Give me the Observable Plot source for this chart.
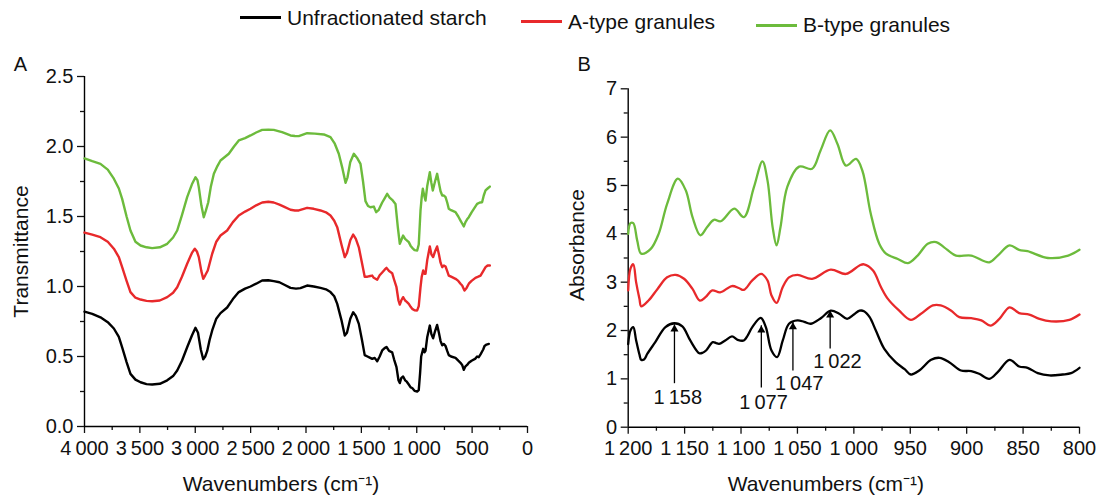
<!DOCTYPE html>
<html><head><meta charset="utf-8">
<script src="https://cdn.jsdelivr.net/npm/d3@7"></script>
<script src="https://cdn.jsdelivr.net/npm/@observablehq/plot@0.6"></script>
<style>
body{margin:0;background:#fff;font-family:"Liberation Sans",Arial,sans-serif;}
#wrap{position:relative;width:1103px;height:498px;overflow:hidden;background:#fff}
#legend{position:absolute;left:0;top:0;width:1103px;height:40px;font-size:21px;color:#111;z-index:2}
.item{position:absolute;display:flex;align-items:center;white-space:nowrap;line-height:24px}
.sw{display:inline-block;width:41px;height:0;border-top:3px solid;margin-right:6px}
#a,#b{position:absolute;top:0}
#a{left:0} #b{left:550px}
svg{overflow:visible}
</style></head><body>
<div id="wrap">
<div id="legend"></div>
<div id="a"></div><div id="b"></div>
</div>
<script>
// ---------- data ----------
const seriesNames = ["Unfractionated starch", "A-type granules", "B-type granules"];
const seriesColors = ["#000000", "#e8292b", "#6cbb3c"];

const aTicksX = [4000, 3500, 3000, 2500, 2000, 1500, 1000, 500, 0];
const aMinorX = [3750, 3250, 2750, 2250, 1750, 1250, 750, 250];
const aTicksY = [0, 0.5, 1.0, 1.5, 2.0, 2.5];
const aMinorY = [0.25, 0.75, 1.25, 1.75, 2.25];
const bTicksX = [1200, 1150, 1100, 1050, 1000, 950, 900, 850, 800];
const bMinorX = [1175, 1125, 1075, 1025, 975, 925, 875, 825];
const bTicksY = [0, 1, 2, 3, 4, 5, 6, 7];
const bMinorY = [0.5, 1.5, 2.5, 3.5, 4.5, 5.5, 6.5];

const blackA = [[4000,0.82],[3930,0.805],[3856,0.78],[3790,0.745],[3735,0.70],[3690,0.64],[3660,0.566],[3620,0.46],[3585,0.376],[3540,0.335],[3494,0.316],[3440,0.303],[3389,0.30],[3320,0.305],[3253,0.33],[3200,0.36],[3163,0.40],[3120,0.47],[3073,0.566],[3030,0.65],[2998,0.705],[2975,0.67],[2950,0.55],[2928,0.48],[2910,0.50],[2892,0.54],[2870,0.62],[2847,0.686],[2810,0.77],[2772,0.81],[2712,0.85],[2660,0.91],[2607,0.96],[2550,0.985],[2501,1.00],[2450,1.02],[2396,1.043],[2340,1.045],[2291,1.038],[2240,1.03],[2200,1.014],[2140,0.99],[2090,0.985],[2050,0.988],[1990,1.007],[1930,1.0],[1869,0.99],[1820,0.98],[1779,0.96],[1745,0.93],[1718,0.876],[1680,0.76],[1650,0.65],[1630,0.67],[1600,0.77],[1574,0.816],[1550,0.79],[1523,0.733],[1495,0.62],[1470,0.51],[1445,0.50],[1420,0.49],[1402,0.483],[1380,0.49],[1357,0.466],[1335,0.50],[1312,0.543],[1290,0.56],[1273,0.568],[1250,0.54],[1222,0.53],[1205,0.48],[1183,0.424],[1165,0.33],[1153,0.31],[1140,0.345],[1123,0.357],[1105,0.33],[1090,0.32],[1072,0.30],[1055,0.28],[1041,0.275],[1020,0.255],[996,0.25],[982,0.26],[970,0.38],[960,0.50],[942,0.555],[930,0.53],[921,0.54],[905,0.64],[882,0.721],[868,0.66],[852,0.63],[835,0.68],[816,0.725],[800,0.67],[785,0.61],[770,0.58],[755,0.59],[740,0.575],[725,0.54],[711,0.51],[690,0.50],[650,0.49],[625,0.47],[605,0.455],[590,0.44],[575,0.405],[560,0.43],[545,0.44],[530,0.455],[505,0.47],[470,0.485],[455,0.50],[440,0.495],[424,0.515],[400,0.55],[388,0.575],[370,0.585],[349,0.59]];

const redA = [[4000,1.385],[3930,1.37],[3856,1.352],[3790,1.32],[3735,1.27],[3690,1.21],[3660,1.138],[3620,1.04],[3585,0.96],[3540,0.92],[3494,0.907],[3440,0.897],[3389,0.895],[3320,0.90],[3253,0.924],[3200,0.955],[3163,0.995],[3120,1.07],[3073,1.162],[3030,1.24],[3004,1.27],[2985,1.25],[2968,1.21],[2945,1.11],[2928,1.055],[2910,1.08],[2887,1.114],[2865,1.18],[2847,1.234],[2810,1.32],[2772,1.364],[2712,1.40],[2660,1.46],[2607,1.507],[2550,1.535],[2501,1.555],[2450,1.58],[2396,1.60],[2340,1.605],[2291,1.60],[2240,1.585],[2200,1.571],[2140,1.548],[2100,1.543],[2065,1.543],[1990,1.562],[1930,1.555],[1869,1.543],[1820,1.53],[1779,1.507],[1745,1.47],[1718,1.424],[1680,1.30],[1650,1.21],[1630,1.24],[1600,1.33],[1574,1.371],[1550,1.34],[1523,1.28],[1495,1.17],[1470,1.07],[1445,1.07],[1420,1.075],[1402,1.078],[1388,1.062],[1357,1.048],[1335,1.08],[1312,1.10],[1290,1.12],[1273,1.133],[1250,1.11],[1222,1.095],[1205,1.05],[1183,0.995],[1165,0.90],[1153,0.871],[1140,0.90],[1123,0.924],[1105,0.90],[1090,0.89],[1072,0.876],[1055,0.855],[1041,0.84],[1020,0.83],[996,0.829],[982,0.86],[966,0.995],[955,1.07],[942,1.114],[930,1.09],[921,1.09],[905,1.19],[882,1.286],[868,1.23],[852,1.21],[835,1.25],[816,1.286],[800,1.23],[785,1.17],[770,1.138],[755,1.15],[740,1.143],[725,1.11],[711,1.078],[690,1.07],[650,1.055],[625,1.04],[605,1.02],[590,1.007],[569,0.971],[550,0.99],[530,1.02],[505,1.04],[470,1.062],[445,1.07],[424,1.078],[400,1.11],[379,1.138],[360,1.15],[340,1.15]];

const greenA = [[4000,1.915],[3930,1.895],[3856,1.876],[3790,1.835],[3735,1.77],[3690,1.70],[3660,1.626],[3620,1.50],[3585,1.40],[3540,1.32],[3494,1.293],[3440,1.28],[3389,1.274],[3320,1.28],[3253,1.305],[3200,1.35],[3163,1.40],[3120,1.51],[3073,1.638],[3030,1.73],[2998,1.78],[2980,1.76],[2968,1.71],[2945,1.58],[2923,1.495],[2905,1.54],[2883,1.60],[2860,1.71],[2832,1.805],[2800,1.86],[2772,1.90],[2697,1.948],[2650,2.00],[2607,2.043],[2550,2.06],[2501,2.079],[2450,2.10],[2396,2.119],[2340,2.12],[2291,2.119],[2250,2.11],[2216,2.102],[2140,2.079],[2100,2.075],[2065,2.074],[1990,2.095],[1920,2.092],[1839,2.086],[1779,2.067],[1740,2.02],[1704,1.948],[1670,1.84],[1643,1.741],[1625,1.78],[1600,1.89],[1568,1.948],[1540,1.92],[1508,1.876],[1485,1.75],[1463,1.61],[1440,1.575],[1418,1.566],[1388,1.571],[1366,1.531],[1345,1.545],[1327,1.575],[1312,1.60],[1290,1.63],[1267,1.662],[1245,1.635],[1222,1.619],[1192,1.59],[1171,1.424],[1153,1.305],[1140,1.33],[1123,1.364],[1105,1.34],[1090,1.33],[1072,1.317],[1055,1.29],[1041,1.276],[1020,1.26],[996,1.257],[982,1.30],[966,1.543],[955,1.64],[945,1.698],[933,1.65],[921,1.614],[905,1.72],[882,1.817],[868,1.74],[855,1.686],[835,1.75],[816,1.805],[800,1.74],[785,1.68],[770,1.65],[755,1.65],[740,1.638],[725,1.60],[711,1.555],[690,1.545],[650,1.531],[625,1.50],[605,1.471],[590,1.45],[575,1.429],[560,1.46],[545,1.48],[530,1.495],[505,1.53],[480,1.56],[455,1.59],[430,1.60],[410,1.602],[395,1.65],[379,1.686],[360,1.70],[340,1.714]];

const blackB = [[1200,1.72],[1198,2.0],[1195.5,2.07],[1193,1.8],[1190,1.5],[1188.5,1.394],[1186,1.40],[1183,1.52],[1176,1.76],[1167,2.07],[1159,2.15],[1152,2.084],[1145,1.794],[1137,1.53],[1134,1.54],[1131,1.587],[1125,1.76],[1122,1.74],[1119.5,1.725],[1114,1.794],[1108,1.877],[1103,1.808],[1097.5,1.794],[1094,1.90],[1090,2.07],[1082.5,2.26],[1078,2.07],[1073,1.587],[1068,1.45],[1063,1.794],[1057.5,2.14],[1050,2.21],[1044,2.18],[1038,2.14],[1029,2.26],[1020.5,2.41],[1013,2.346],[1006,2.24],[1000,2.33],[995,2.41],[991,2.40],[986,2.276],[980.5,2.0],[973,1.62],[963,1.345],[955,1.20],[949.5,1.09],[942,1.173],[931.5,1.394],[924,1.435],[915.5,1.345],[905,1.173],[896,1.16],[889,1.105],[880,1.0],[872.5,1.139],[862,1.394],[853.5,1.256],[846,1.229],[837,1.118],[826.5,1.07],[815,1.09],[807.5,1.118],[800,1.229]];

const redB = [[1200,2.83],[1198,3.28],[1195.5,3.37],[1193,3.0],[1190,2.65],[1188.5,2.50],[1182,2.62],[1174,2.86],[1165.5,3.10],[1158,3.15],[1150.5,3.07],[1143,2.86],[1136.5,2.62],[1131.5,2.69],[1125.5,2.83],[1118.5,2.79],[1108,2.92],[1102,2.88],[1097.5,2.84],[1090,3.035],[1082,3.17],[1076.5,3.035],[1073,2.725],[1068.5,2.57],[1063,2.90],[1057.5,3.10],[1050,3.15],[1037,3.07],[1020.5,3.26],[1007,3.17],[995,3.346],[991,3.37],[983,3.24],[976,2.90],[970,2.66],[960,2.415],[949.5,2.22],[940.5,2.346],[930,2.52],[923,2.52],[914,2.415],[906.5,2.276],[896,2.255],[887,2.21],[879,2.10],[871,2.24],[862,2.48],[853.5,2.36],[844.5,2.33],[835.5,2.24],[825,2.19],[809,2.22],[800,2.33]];

const greenB = [[1200,4.0],[1198,4.22],[1195.5,4.22],[1192,3.86],[1188.5,3.59],[1180,3.69],[1173,4.0],[1165.5,4.62],[1156,5.14],[1149,4.90],[1143,4.345],[1136,3.97],[1130,4.14],[1124,4.29],[1118,4.26],[1106,4.52],[1097.5,4.345],[1088.5,4.97],[1081,5.50],[1076.5,5.10],[1072,4.14],[1068.5,3.76],[1065,4.14],[1059,4.97],[1048.5,5.39],[1037,5.345],[1029.5,5.725],[1021,6.14],[1014.5,5.86],[1007,5.41],[998,5.55],[992.5,5.31],[985,4.415],[977.5,3.795],[971.5,3.59],[961,3.48],[952,3.395],[943.5,3.55],[934.5,3.795],[927,3.83],[920,3.72],[909.5,3.55],[896,3.55],[880,3.41],[872.5,3.55],[862,3.76],[853.5,3.67],[846,3.64],[828,3.50],[810,3.55],[800,3.67]];

// peak annotations (panel B)
const peakLabels = ["1\u2009158", "1\u2009077", "1\u2009047", "1\u2009022"];
const arrowX    = [1159, 1082, 1054, 1021];
const arrowTip  = [2.12, 2.10, 2.17, 2.41];
const arrowTail = [0.90, 0.81, 1.16, 1.62];
const labelX    = [1156, 1080, 1048.5, 1014.5];
const labelY    = [0.62, 0.50, 0.90, 1.36];

// ---------- helpers ----------
const FONT = '"Liberation Sans", Arial, sans-serif';
const fmtK = d => d >= 1000 ? Math.floor(d / 1000) + "\u2009" + d3.format("03d")(d % 1000) : String(d);
const toRows = (arr, s) => arr.map(([w, v]) => ({w, v, s}));
const seriesA = [blackA, redA, greenA];
const seriesB = [blackB, redB, greenB];
const peaks = peakLabels.map((t, i) => ({t, x: arrowX[i], tip: arrowTip[i], tail: arrowTail[i], lx: labelX[i], ly: labelY[i]}));

// ---------- legend ----------
const legendPos = [[240, 5.5], [521, 9.5], [756, 13]];
const lg = document.getElementById("legend");
seriesNames.forEach((n, i) => {
  const it = document.createElement("div");
  it.className = "item";
  it.style.left = legendPos[i][0] + "px";
  it.style.top = legendPos[i][1] + "px";
  it.innerHTML = `<span class="sw" style="border-color:${seriesColors[i]}"></span><span>${n}</span>`;
  lg.appendChild(it);
});

function axes(tx, mx, ty, my, fx, fy, x0, y0) {
  return [
    Plot.axisX({ticks: tx, tickSize: 7, tickPadding: 7, tickFormat: fx, label: null, strokeWidth: 1.3, fontSize: 20, fill: "#111"}),
    Plot.axisX({ticks: mx, tickSize: 4, tickFormat: () => "", label: null, strokeWidth: 1.3}),
    Plot.axisY({ticks: ty, tickSize: 7, tickPadding: 4, tickFormat: fy, label: null, strokeWidth: 1.3, fontSize: 20, fill: "#111"}),
    Plot.axisY({ticks: my, tickSize: 4, tickFormat: () => "", label: null, strokeWidth: 1.3}),
    Plot.ruleY([y0], {stroke: "#000", strokeWidth: 1.4}),
    Plot.ruleX([x0], {stroke: "#000", strokeWidth: 1.4})
  ];
}

const txt = {text: d => d, textAnchor: "middle", lineAnchor: "middle", fill: "#111"};

// ---------- panel A ----------
const plotA = Plot.plot({
  width: 550, height: 498,
  marginLeft: 84, marginRight: 23, marginTop: 76, marginBottom: 72,
  x: {domain: [4000, 0], label: null},
  y: {domain: [0, 2.5], label: null},
  style: {fontFamily: FONT, fontSize: "20px", background: "transparent", color: "#111", overflow: "visible"},
  marks: [
    ...axes(aTicksX, aMinorX, aTicksY, aMinorY, fmtK, d3.format(".1f"), 4000, 0),
    ...seriesA.map((arr, i) => Plot.line(toRows(arr, i), {x: "w", y: "v", stroke: seriesColors[i], strokeWidth: 2.4, strokeLinejoin: "round"})),
    Plot.text(["Transmittance"], {...txt, frameAnchor: "left", dx: -63, dy: 0, rotate: -90, fontSize: 21}),
    Plot.text(["Wavenumbers (cm\u207B\u00B9)"], {...txt, frameAnchor: "bottom", dx: -25, dy: 58, fontSize: 21}),
    Plot.text(["A"], {...txt, frameAnchor: "top-left", dx: -64, dy: -12, fontSize: 20})
  ]
});
document.getElementById("a").appendChild(plotA);

// ---------- panel B ----------
const plotB = Plot.plot({
  width: 553, height: 498,
  marginLeft: 77.7, marginRight: 24, marginTop: 88.3, marginBottom: 71.3,
  x: {domain: [1200, 800], label: null},
  y: {domain: [0, 7], label: null},
  style: {fontFamily: FONT, fontSize: "20px", background: "transparent", color: "#111", overflow: "visible"},
  marks: [
    ...axes(bTicksX, bMinorX, bTicksY, bMinorY, fmtK, d3.format("d"), 1200, 0),
    ...seriesB.map((arr, i) => Plot.line(toRows(arr, i), {x: "w", y: "v", stroke: seriesColors[i], strokeWidth: 2.3, curve: "catmull-rom", strokeLinejoin: "round"})),
    Plot.ruleX(peaks, {x: "x", y1: "tail", y2: "tip", stroke: "#000", strokeWidth: 1.3}),
    Plot.dot(peaks, {x: "x", y: "tip", symbol: "triangle", r: 3, fill: "#000", stroke: null, dy: 4.5}),
    Plot.text(peaks, {x: "lx", y: "ly", text: "t", fontSize: 20, fill: "#111"}),
    Plot.text(["Absorbance"], {...txt, frameAnchor: "left", dx: -51, dy: -13, rotate: -90, fontSize: 21}),
    Plot.text(["Wavenumbers (cm\u207B\u00B9)"], {...txt, frameAnchor: "bottom", dx: -28, dy: 57, fontSize: 21}),
    Plot.text(["B"], {...txt, frameAnchor: "top-left", dx: -44, dy: -24, fontSize: 20})
  ]
});
document.getElementById("b").appendChild(plotB);
</script>
</body></html>
